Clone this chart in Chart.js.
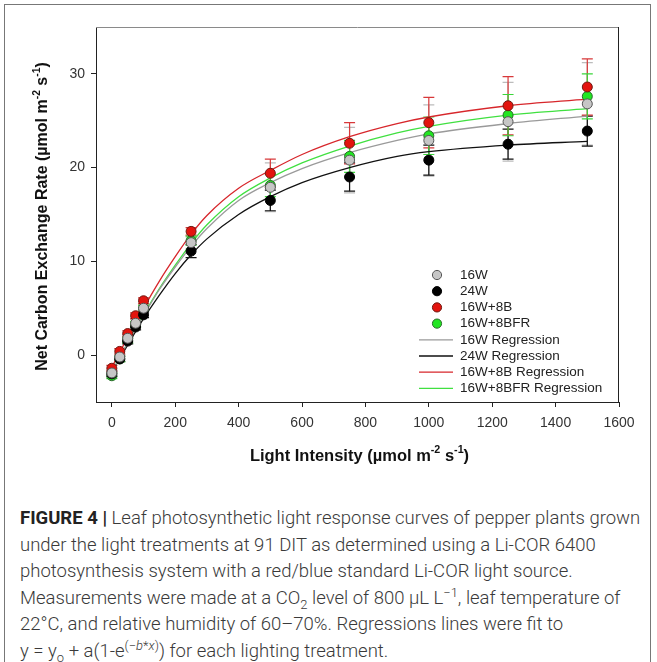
<!DOCTYPE html>
<html>
<head>
<meta charset="utf-8">
<script src="https://cdn.jsdelivr.net/npm/chart.js@4.4.1/dist/chart.umd.min.js"></script>
<style>
  html, body { margin: 0; padding: 0; background: #fff; }
  body { width: 657px; height: 662px; position: relative; overflow: hidden; }
  #box { position: absolute; left: 4px; top: 4px; width: 645px; height: 700px; border: 1px solid #777; }
  #wrap { position: absolute; left: 0; top: 0; width: 657px; height: 480px; }
  #caption { position: absolute; left: 20px; top: 505px; font-family: Roboto, "Liberation Sans", sans-serif;
             font-size: 18.5px; line-height: 26.5px; color: #3a3a3a; font-weight: 300; }
  #caption div { white-space: nowrap; }
  #caption b { font-weight: 700; color: #222; }
  sub, sup { font-size: 70%; line-height: 0; }
</style>
</head>
<body>
<div id="box"></div>
<div id="wrap"><canvas id="chart" width="657" height="480"></canvas></div>
<div id="caption">
  <div><b>FIGURE 4 |</b> Leaf photosynthetic light response curves of pepper plants grown</div>
  <div>under the light treatments at 91 DIT as determined using a Li-COR 6400</div>
  <div>photosynthesis system with a red/blue standard Li-COR light source.</div>
  <div>Measurements were made at a CO<sub>2</sub> level of 800 &micro;L L<sup>&minus;1</sup>, leaf temperature of</div>
  <div>22&deg;C, and relative humidity of 60&ndash;70%. Regressions lines were fit to</div>
  <div>y = y<sub>o</sub> + a(1-e<sup>(&minus;<i>b</i>*<i>x</i>)</sup>) for each lighting treatment.</div>
</div>
<script>
// light levels (x) and measured means
const lightLevels = [0, 25, 50, 75, 100, 250, 500, 750, 1000, 1250, 1500];
const mean16W    = [-1.9, -0.2, 1.8, 3.4, 5.0, 12.0, 17.9, 20.8, 22.9, 24.9, 26.8];
const mean24W    = [-2.0, -0.4, 1.5, 3.0, 4.3, 11.1, 16.5, 19.0, 20.8, 22.5, 23.9];
const mean16W8B  = [-1.4, 0.4, 2.3, 4.2, 5.8, 13.2, 19.4, 22.6, 24.8, 26.6, 28.6];
const mean16W8BFR = [-2.2, -0.4, 1.6, 3.3, 5.0, 12.2, 18.1, 21.2, 23.4, 25.6, 27.6];

// error bars (+/-)
const err16W    = [0.3, 0.3, 0.4, 0.4, 0.4, 0.6, 2.6, 3.5, 3.8, 4.2, 4.4];
const err24W    = [0.3, 0.3, 0.3, 0.3, 0.3, 0.7, 1.1, 1.5, 1.6, 1.6, 1.6];
const err16W8B  = [0.3, 0.3, 0.3, 0.3, 0.3, 0.4, 1.5, 2.2, 2.7, 3.1, 3.0];
const err16W8BFR = [0.3, 0.3, 0.3, 0.3, 0.3, 0.5, 1.2, 1.7, 2.0, 2.2, 2.4];

// regression curves
const fitX = [0, 50, 100, 150, 200, 250, 300, 400, 500, 600, 750, 900, 1000, 1250, 1500];
const fit16W    = [-1.8, 1.3, 4.2, 7.0, 9.4, 11.6, 13.5, 16.5, 18.4, 19.9, 21.6, 22.9, 23.6, 24.7, 25.5];
const fit24W    = [-1.8, 1.1, 3.9, 6.4, 8.7, 10.7, 12.4, 15.0, 16.9, 18.4, 20.0, 21.2, 21.7, 22.4, 22.8];
const fit16W8B  = [-1.3, 1.9, 5.0, 7.9, 10.5, 12.9, 14.9, 17.8, 19.7, 21.4, 23.3, 24.7, 25.4, 26.6, 27.3];
const fit16W8BFR = [-1.8, 1.3, 4.3, 7.1, 9.6, 11.9, 13.9, 16.9, 18.9, 20.5, 22.3, 23.7, 24.4, 25.6, 26.3];

const xTicks = [0, 200, 400, 600, 800, 1000, 1200, 1400, 1600];
const yTicks = [0, 10, 20, 30];

const series = [
  { name: "16W", mean: mean16W, err: err16W, fit: fit16W, fill: "#c6c6c6", edge: "#555", bar: "#bcbcbc", line: "#9a9a9a" },
  { name: "24W", mean: mean24W, err: err24W, fit: fit24W, fill: "#000", edge: "#000", bar: "#111", line: "#111" },
  { name: "16W+8B", mean: mean16W8B, err: err16W8B, fit: fit16W8B, fill: "#e3140e", edge: "#6e1a12", bar: "#d8383a", line: "#d7262b" },
  { name: "16W+8BFR", mean: mean16W8BFR, err: err16W8BFR, fit: fit16W8BFR, fill: "#22e622", edge: "#2b682b", bar: "#3ad63a", line: "#40e040" }
];

const datasets = [];
series.forEach(s => {
  datasets.push({
    label: s.name + " Regression",
    data: fitX.map((x, i) => ({ x: x, y: s.fit[i] })),
    borderColor: s.line, borderWidth: 1.3, pointRadius: 0,
    cubicInterpolationMode: "monotone", fill: false, order: 2
  });
});
series.forEach(s => {
  datasets.push({
    label: s.name,
    data: lightLevels.map((x, i) => ({ x: x, y: s.mean[i] })),
    showLine: false, pointRadius: 5, pointBorderWidth: 1,
    pointBackgroundColor: s.fill, pointBorderColor: s.edge, order: 1
  });
});

const FONT = "'Liberation Sans', Arial, sans-serif";

// error bars behind everything
const errorBars = {
  id: "errorBars",
  beforeDatasetsDraw(chart) {
    const ctx = chart.ctx, xs = chart.scales.x, ys = chart.scales.y;
    ctx.save();
    ctx.lineWidth = 1.2;
    series.forEach(s => {
      ctx.strokeStyle = s.bar;
      lightLevels.forEach((x, i) => {
        const px = xs.getPixelForValue(x);
        const top = ys.getPixelForValue(s.mean[i] + s.err[i]);
        const bot = ys.getPixelForValue(s.mean[i] - s.err[i]);
        ctx.beginPath();
        ctx.moveTo(px, top); ctx.lineTo(px, bot);
        ctx.moveTo(px - 5.5, top); ctx.lineTo(px + 5.5, top);
        ctx.moveTo(px - 5.5, bot); ctx.lineTo(px + 5.5, bot);
        ctx.stroke();
      });
    });
    ctx.restore();
  }
};

function richWidth(ctx, parts, size) {
  let w = 0;
  parts.forEach(p => {
    ctx.font = "bold " + (p.sup ? size * 0.65 : size) + "px " + FONT;
    w += ctx.measureText(p.t).width;
  });
  return w;
}
function drawRich(ctx, parts, size, cx, cy) {
  const total = richWidth(ctx, parts, size);
  let x = cx - total / 2;
  ctx.textBaseline = "middle";
  ctx.textAlign = "left";
  parts.forEach(p => {
    ctx.font = "bold " + (p.sup ? size * 0.65 : size) + "px " + FONT;
    ctx.fillText(p.t, x, p.sup ? cy - size * 0.38 : cy);
    x += ctx.measureText(p.t).width;
  });
}

const decorations = {
  id: "decorations",
  afterDraw(chart) {
    const ctx = chart.ctx, a = chart.chartArea;
    ctx.save();
    // frame top and right
    ctx.lineWidth = 1;
    ctx.strokeStyle = "#8a8a8a";
    ctx.beginPath(); ctx.moveTo(a.left, a.top + 0.5); ctx.lineTo(a.right, a.top + 0.5); ctx.stroke();
    ctx.strokeStyle = "#222";
    ctx.beginPath(); ctx.moveTo(a.right - 0.5, a.top); ctx.lineTo(a.right - 0.5, a.bottom); ctx.stroke();

    // axis titles
    ctx.fillStyle = "#111";
    drawRich(ctx, [{ t: "Light Intensity (\u00b5mol m" }, { t: "-2", sup: true }, { t: " s" }, { t: "-1", sup: true }, { t: ")" }],
      16.5, (a.left + a.right) / 2 + 2, 456);
    ctx.save();
    ctx.translate(43, (a.top + a.bottom) / 2 + 2);
    ctx.rotate(-Math.PI / 2);
    drawRich(ctx, [{ t: "Net Carbon Exchange Rate (\u00b5mol m" }, { t: "-2", sup: true }, { t: " s" }, { t: "-1", sup: true }, { t: ")" }],
      16, 0, 0);
    ctx.restore();

    // legend
    const lx = 437, tx = 460, y0 = 275, dy = 16.2;
    ctx.font = "13.5px " + FONT;
    ctx.textBaseline = "middle";
    ctx.textAlign = "left";
    series.forEach((s, i) => {
      const y = y0 + i * dy;
      ctx.beginPath();
      ctx.arc(lx, y, 4.6, 0, Math.PI * 2);
      ctx.fillStyle = s.fill; ctx.fill();
      ctx.strokeStyle = s.edge; ctx.lineWidth = 1; ctx.stroke();
      ctx.fillStyle = "#222";
      ctx.fillText(s.name, tx, y);
    });
    series.forEach((s, i) => {
      const y = y0 + (i + 4) * dy;
      ctx.beginPath();
      ctx.moveTo(419, y); ctx.lineTo(453, y);
      ctx.strokeStyle = s.line; ctx.lineWidth = 1.3; ctx.stroke();
      ctx.fillStyle = "#222";
      ctx.fillText(s.name + " Regression", tx, y);
    });
    ctx.restore();
  }
};

new Chart(document.getElementById("chart"), {
  type: "line",
  data: { datasets: datasets },
  options: {
    responsive: false,
    devicePixelRatio: 1,
    animation: false,
    layout: { padding: { top: 27, right: 38, left: 0, bottom: 0 } },
    plugins: { legend: { display: false }, tooltip: { enabled: false } },
    scales: {
      x: {
        type: "linear", min: -50, max: 1600,
        afterBuildTicks: s => { s.ticks = xTicks.map(v => ({ value: v })); },
        afterFit: s => { s.height = 78; },
        grid: { drawOnChartArea: false, tickLength: 5, color: "#222" },
        border: { color: "#222", width: 1 },
        ticks: { font: { size: 14, family: FONT }, color: "#333", padding: 8, maxRotation: 0, autoSkip: false,
                 callback: v => String(v) }
      },
      y: {
        type: "linear", min: -5, max: 35,
        afterBuildTicks: s => { s.ticks = yTicks.map(v => ({ value: v })); },
        afterFit: s => { s.width = 96; },
        grid: { drawOnChartArea: false, tickLength: 5, color: "#222" },
        border: { color: "#222", width: 1 },
        ticks: { font: { size: 14, family: FONT }, color: "#333", padding: 6, callback: v => String(v) }
      }
    }
  },
  plugins: [errorBars, decorations]
});
</script>
</body>
</html>
